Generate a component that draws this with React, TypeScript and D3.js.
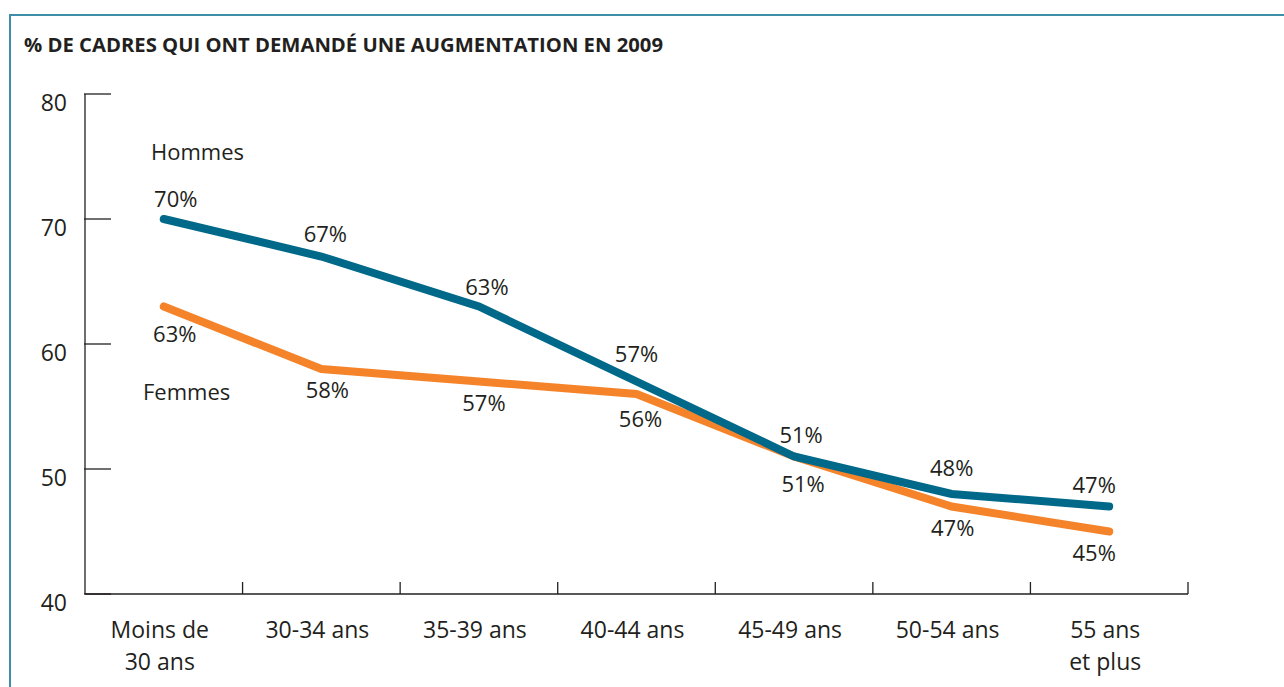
import React from "react";
import * as d3 from "d3";

const categories: string[][] = [
  ["Moins de", "30 ans"],
  ["30-34 ans"],
  ["35-39 ans"],
  ["40-44 ans"],
  ["45-49 ans"],
  ["50-54 ans"],
  ["55 ans", "et plus"],
];
const hommes: number[] = [70, 67, 63, 57, 51, 48, 47];
const femmes: number[] = [63, 58, 57, 56, 51, 47, 45];
const yTicks: number[] = [40, 50, 60, 70, 80];
const title = "% DE CADRES QUI ONT DEMANDÉ UNE AUGMENTATION EN 2009";

// small nudges for value labels (layout only)
const hNudge = [12, 4, 8, 0, 7, 0, -15];
const fNudge = [11, 6, 5, 4, 9, 1, -15];
const hNudgeY = [0, -3, 0, -8, -2, -6, -2];
const fNudgeY = [2, -4, -4, 0, 2, -4, -4];

const W = 1284;
const H = 687;
const FONT = "'Open Sans', 'DejaVu Sans', sans-serif";
const TEAL = "#00698a";
const ORANGE = "#f5832a";
const FRAME = "#3d8ea6";
const TEXT = "#231f20";

export default function App() {
  const x = d3
    .scaleBand<number>()
    .domain(d3.range(categories.length))
    .range([85, 1188])
    .paddingInner(0)
    .paddingOuter(0);
  const y = d3.scaleLinear().domain([40, 80]).range([594, 94]);
  const cx = (i: number) => (x(i) as number) + x.bandwidth() / 2;

  const line = d3
    .line<number>()
    .x((_, i) => cx(i))
    .y((d) => y(d));

  return (
    <svg
      width={W}
      height={H}
      style={{ position: "absolute", left: 0, top: 0, background: "#fff" }}
      fontFamily={FONT}
    >
      {/* frame */}
      <line x1={10} x2={W} y1={15} y2={15} stroke={FRAME} strokeWidth={2} />
      <line x1={10} x2={10} y1={14} y2={H} stroke={FRAME} strokeWidth={2} />

      {/* title */}
      <text
        x={24}
        y={52}
        fontSize={20}
        fontWeight={700}
        fill={TEXT}
        textLength={639}
        lengthAdjust="spacingAndGlyphs"
      >
        {title}
      </text>

      {/* y axis */}
      <line x1={85} x2={85} y1={y(80)} y2={y(40)} stroke={TEXT} strokeWidth={1.3} />
      {yTicks.map((t) => (
        <g key={t}>
          <line x1={84} x2={111} y1={y(t)} y2={y(t)} stroke={TEXT} strokeWidth={1.3} />
          <text x={67} y={y(t) + 17} fontSize={23} textAnchor="end" fill={TEXT}>
            {t}
          </text>
        </g>
      ))}

      {/* x axis */}
      <line x1={85} x2={1188} y1={y(40)} y2={y(40)} stroke={TEXT} strokeWidth={1.3} />
      {categories.map((_, i) => {
        const xe = (x(i) as number) + x.bandwidth();
        return (
          <line key={i} x1={xe} x2={xe} y1={y(40)} y2={y(40) - 12} stroke={TEXT} strokeWidth={1.3} />
        );
      })}
      {categories.map((lines, i) => (
        <text key={i} x={cx(i) - 4} y={638} fontSize={23} textAnchor="middle" fill={TEXT}>
          {lines.map((l, j) => (
            <tspan key={j} x={cx(i) - 4} dy={j === 0 ? 0 : 32}>
              {l}
            </tspan>
          ))}
        </text>
      ))}

      {/* lines */}
      <path
        d={line(femmes) || ""}
        fill="none"
        stroke={ORANGE}
        strokeWidth={8}
        strokeLinecap="round"
        strokeLinejoin="miter"
      />
      <path
        d={line(hommes) || ""}
        fill="none"
        stroke={TEAL}
        strokeWidth={8}
        strokeLinecap="round"
        strokeLinejoin="miter"
      />

      {/* value labels */}
      {hommes.map((v, i) => (
        <text
          key={"h" + i}
          x={cx(i) + hNudge[i]}
          y={y(v) - 12 + hNudgeY[i]}
          fontSize={22}
          textAnchor="middle"
          fill={TEXT}
        >
          {v}%
        </text>
      ))}
      {femmes.map((v, i) => (
        <text
          key={"f" + i}
          x={cx(i) + fNudge[i]}
          y={y(v) + 33 + fNudgeY[i]}
          fontSize={22}
          textAnchor="middle"
          fill={TEXT}
        >
          {v}%
        </text>
      ))}

      {/* series names */}
      <text x={151} y={160} fontSize={22} fill={TEXT}>
        Hommes
      </text>
      <text x={143} y={400} fontSize={22} fill={TEXT}>
        Femmes
      </text>
    </svg>
  );
}
